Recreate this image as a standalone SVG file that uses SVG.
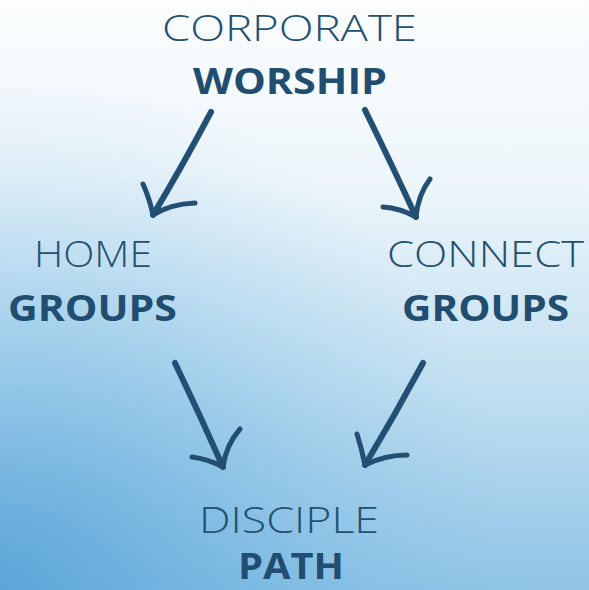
<svg xmlns="http://www.w3.org/2000/svg" width="589" height="590" viewBox="0 0 589 590">
<defs>
<linearGradient id="bg" x1="0" y1="0" x2="0" y2="1">
<stop offset="0" stop-color="#fbfdfe"/>
<stop offset="0.3" stop-color="#eef6fb"/>
<stop offset="0.65" stop-color="#c2e0f1"/>
<stop offset="1" stop-color="#8fc3e6"/>
</linearGradient>
<radialGradient id="bl" cx="0" cy="590" r="520" gradientUnits="userSpaceOnUse">
<stop offset="0" stop-color="#4a9bd4" stop-opacity="0.75"/>
<stop offset="0.5" stop-color="#5aa8dc" stop-opacity="0.35"/>
<stop offset="1" stop-color="#7fbde6" stop-opacity="0"/>
</radialGradient>
<style>
.reg{font-family:"Open Sans","Liberation Sans",sans-serif;font-weight:300;font-size:36px;fill:#24506f;text-anchor:start}
.bold{font-family:"Open Sans","Liberation Sans",sans-serif;font-weight:700;font-size:36px;fill:#214d70;text-anchor:start}
.arr{fill:none;stroke:#234f74;stroke-width:6;stroke-linecap:round;stroke-linejoin:round}
.wing{fill:none;stroke:#234f74;stroke-width:5;stroke-linecap:round;stroke-linejoin:round}
</style>
</defs>
<rect width="589" height="590" fill="url(#bg)"/>
<rect width="589" height="590" fill="url(#bl)"/>
<g id="corporate-worship">
<text class="reg" x="162" y="41" textLength="255" lengthAdjust="spacingAndGlyphs">CORPORATE</text>
<text class="bold" x="193" y="94" textLength="194" lengthAdjust="spacingAndGlyphs">WORSHIP</text>
</g>
<g id="home-groups">
<text class="reg" x="34" y="267" textLength="118" lengthAdjust="spacingAndGlyphs">HOME</text>
<text class="bold" x="8" y="321" textLength="169" lengthAdjust="spacingAndGlyphs">GROUPS</text>
</g>
<g id="connect-groups">
<text class="reg" x="387" y="267" textLength="197" lengthAdjust="spacingAndGlyphs">CONNECT</text>
<text class="bold" x="402" y="321" textLength="167" lengthAdjust="spacingAndGlyphs">GROUPS</text>
</g>
<g id="disciple-path">
<text class="reg" x="199" y="533" textLength="180" lengthAdjust="spacingAndGlyphs">DISCIPLE</text>
<text class="bold" x="238" y="579" textLength="106" lengthAdjust="spacingAndGlyphs">PATH</text>
</g>
<g id="connectors">
<path class="arr" d="M211,112 Q183,165 153,215"/>
<path class="wing" d="M143,184 Q150,200 153,215 Q170,204 195,203"/>
<path class="arr" d="M365,110 Q392,165 416,217"/>
<path class="wing" d="M430,179 Q418,195 416,217 Q400,208 383,207"/>
<path class="arr" d="M175,363 Q200,415 223,467"/>
<path class="wing" d="M240,429 Q226,445 223,467 Q208,459 192,457"/>
<path class="arr" d="M423,363 Q395,415 365,465"/>
<path class="wing" d="M357,434 Q362,450 365,465 Q385,455 407,455"/>
</g>
</svg>
